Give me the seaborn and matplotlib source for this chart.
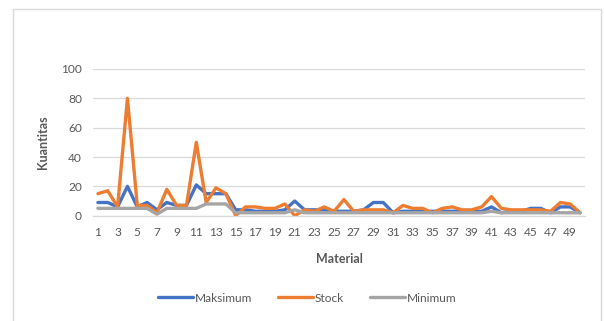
import matplotlib
matplotlib.use("Agg")
import matplotlib.pyplot as plt
from matplotlib.patches import Rectangle
import seaborn as sns
import pandas as pd

# Material numbers (category axis)
materials = list(range(1, 51))

# Quantities per material
maksimum = [9, 9, 6, 20, 6, 9, 4, 9, 7, 7,
            21, 15, 15, 15, 4, 4, 3, 3, 3, 4,
            10, 4, 4, 4, 3, 3, 3, 4, 9, 9,
            2, 3, 3, 3, 3, 3, 3, 3, 3, 3,
            6, 2, 3, 3, 5, 5, 2, 6, 6, 2]
stock = [15, 17, 6, 80, 7, 7, 2, 18, 7, 7,
         50, 9, 19, 15, 0, 6, 6, 5, 5, 8,
         0, 4, 3, 6, 3, 11, 3, 4, 4, 4,
         2, 7, 5, 5, 2, 5, 6, 4, 4, 6,
         13, 5, 4, 4, 4, 4, 3, 9, 8, 2]
minimum = [5, 5, 5, 5, 5, 5, 1, 5, 5, 5,
           5, 8, 8, 8, 2, 2, 2, 2, 2, 2,
           4, 2, 2, 2, 2, 2, 2, 2, 2, 2,
           2, 2, 2, 2, 2, 2, 2, 2, 2, 2,
           3, 2, 2, 2, 2, 2, 2, 2, 2, 2]

series_names = ["Maksimum", "Stock", "Minimum"]
series_colors = ["#4472C4", "#ED7D31", "#A5A5A5"]
y_ticks = [0, 20, 40, 60, 80, 100]
x_tick_labels = [str(m) for m in materials if m % 2 == 1]

df = pd.DataFrame({
    "Material": materials * 3,
    "Kuantitas": maksimum + stock + minimum,
    "Seri": [series_names[0]] * len(materials)
            + [series_names[1]] * len(materials)
            + [series_names[2]] * len(materials),
})

sns.set_theme(style="white")
plt.rcParams["font.family"] = ["Lato", "DejaVu Sans"]

fig = plt.figure(figsize=(6.04, 3.21), dpi=100)
ax = fig.add_axes([93 / 604, 1 - 215.7 / 321, (585 - 93) / 604, (215.7 - 69) / 321])

# outer chart frame
fig.patches.append(Rectangle((13 / 604, -0.02), (601 - 13) / 604, 1 - 9 / 321 + 0.02,
                             transform=fig.transFigure, fill=False,
                             edgecolor="#D9D9D9", linewidth=1.0, zorder=0))

sns.lineplot(data=df, x="Material", y="Kuantitas", hue="Seri",
             hue_order=series_names, palette=series_colors,
             linewidth=2.4, ax=ax, sort=False, legend=True)

ax.set_xlim(0.5, 50.5)
ax.set_ylim(0, 100)
ax.set_yticks(y_ticks)
ax.set_xticks([m for m in materials if m % 2 == 1])
ax.set_xticklabels(x_tick_labels)
ax.grid(axis="y", color="#D9D9D9", linewidth=0.9)
ax.set_axisbelow(True)
for s in ["top", "right", "left"]:
    ax.spines[s].set_visible(False)
ax.spines["bottom"].set_color("#D9D9D9")
ax.spines["bottom"].set_linewidth(0.9)
ax.tick_params(axis="both", length=0, labelsize=8.6, labelcolor="#595959")
ax.tick_params(axis="y", pad=8)
ax.tick_params(axis="x", pad=8)

ax.set_xlabel("Material", fontsize=9, fontweight="bold", color="#595959", labelpad=11)
ax.set_ylabel("Kuantitas", fontsize=9, fontweight="bold", color="#595959", labelpad=9)

handles, labels = ax.get_legend_handles_labels()
ax.legend_.remove()
fig.legend(handles, labels, loc="center", bbox_to_anchor=(307 / 604, 1 - 298 / 321),
           ncol=3, frameon=False, fontsize=8.6, handlelength=2.9,
           handletextpad=0.15, columnspacing=2.2, labelcolor="#595959")

fig.savefig("out.png", dpi=100)
